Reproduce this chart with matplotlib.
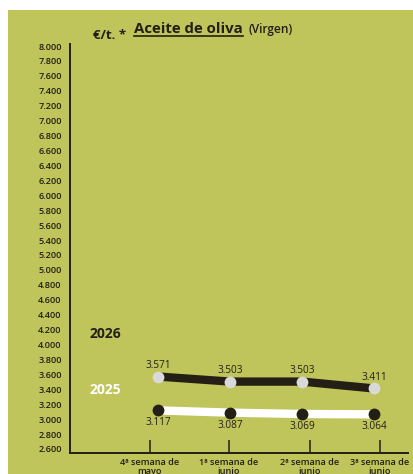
import matplotlib
matplotlib.use('Agg')
import matplotlib.pyplot as plt
from matplotlib.patches import Rectangle

# %% data
weeks = ['4ª semana de\nmayo', '1ª semana de\njunio', '2ª semana de\njunio', '3ª semana de\njunio']
price_2026 = [3571, 3503, 3503, 3411]
price_2025 = [3117, 3087, 3069, 3064]
yticks = list(range(2600, 8001, 200))

green = '#bfc45b'
dark = '#231f15'
plt.rcParams['font.family'] = ['Open Sans', 'DejaVu Sans']

# %% figure
fig = plt.figure(figsize=(4.13, 4.74), dpi=100, facecolor='white')
fig.patches.append(Rectangle((8 / 413, 0), 1, 1 - 10 / 474, transform=fig.transFigure,
                             facecolor=green, edgecolor='none', zorder=-5))

ax = fig.add_axes([70 / 413, 1 - 453 / 474, 338 / 413, 409 / 474])
ax.set_facecolor('none')
x = list(range(len(weeks)))

ax.plot(x, price_2026, color=dark, lw=6, solid_capstyle='butt', zorder=2)
ax.plot(x, price_2026, 'o', ms=8.5, color='#d9d9d9', mec='none', zorder=3)
ax.plot(x, price_2025, color='white', lw=6, solid_capstyle='butt', zorder=2)
ax.plot(x, price_2025, 'o', ms=8.5, color=dark, mec='none', zorder=3)

for xi, v in zip(x, price_2026):
    ax.annotate(f'{v/1000:.3f}', (xi, v), xytext=(0, 8), textcoords='offset points',
                ha='center', va='center', fontsize=7.2, color=dark)
for xi, v in zip(x, price_2025):
    ax.annotate(f'{v/1000:.3f}', (xi, v), xytext=(0, -9), textcoords='offset points',
                ha='center', va='center', fontsize=7.2, color=dark)

ax.set_xlim(-1.222, 3.472)
ax.set_ylim(2546, 8027)
ax.set_yticks(yticks)
ax.set_yticklabels([f'{t/1000:.3f}' for t in yticks], fontsize=6.6, color=dark,
                   fontweight='semibold')
ax.tick_params(axis='y', length=0, pad=6)
ax.set_xticks([-0.111, 0.986, 2.111, 3.083])
ax.set_xticklabels(weeks, fontsize=6.6, color=dark, fontweight='semibold', linespacing=1.0)
ax.tick_params(axis='x', direction='in', length=9.5, width=1.1, color=dark, pad=3.5)

for s in ['top', 'right']:
    ax.spines[s].set_visible(False)
ax.spines['left'].set_color(dark)
ax.spines['bottom'].set_color(dark)
ax.spines['left'].set_linewidth(1.4)
ax.spines['bottom'].set_linewidth(1.4)

# series labels
fig.text(90 / 413, 1 - 334 / 474, '2026', fontsize=10, fontweight='bold', color=dark, va='center')
fig.text(90 / 413, 1 - 390 / 474, '2025', fontsize=10, fontweight='bold', color='white', va='center')

# title
fig.text(93 / 413, 1 - 39 / 474, '€/t. *', fontsize=9.5, fontweight='bold', color=dark, va='baseline')
t = fig.text(134 / 413, 1 - 33 / 474, 'Aceite de oliva', fontsize=10.8, fontweight='bold',
             color=dark, va='baseline')
fig.text(248 / 413, 1 - 33 / 474, '(Virgen)', fontsize=8.6, fontweight='semibold', color=dark,
         va='baseline')
fig.canvas.draw()
bb = t.get_window_extent().transformed(fig.transFigure.inverted())
fig.add_artist(plt.Line2D([bb.x0, bb.x1], [bb.y0 + 0.001, bb.y0 + 0.001], color=dark, lw=1.2,
                          transform=fig.transFigure))

fig.savefig('out.png', dpi=100, facecolor='white')
